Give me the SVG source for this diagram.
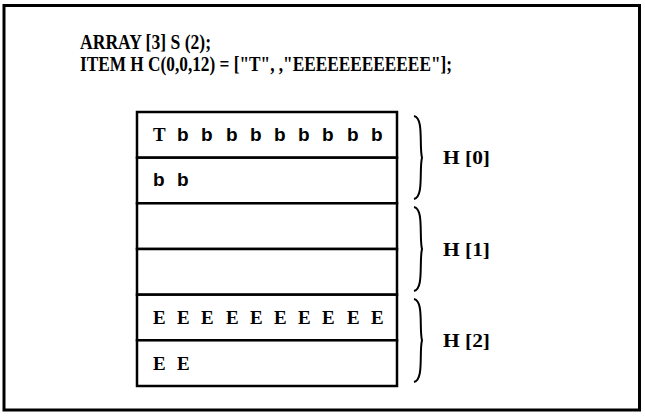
<svg xmlns="http://www.w3.org/2000/svg" width="645" height="420" viewBox="0 0 645 420">
<style>
  .frame{fill:#fff;stroke:#000;stroke-width:3}
  .cell{fill:#fff;stroke:#000;stroke-width:2.5}
  .head{font-family:"Liberation Serif","Times New Roman",serif;font-weight:bold;font-size:20px;fill:#000}
  .cellT{font-family:"Liberation Serif","Times New Roman",serif;font-weight:bold;font-size:19px;fill:#000}
  .cellB{font-family:"Liberation Sans",Arial,sans-serif;font-weight:bold;font-size:19px;fill:#000}
  .lbl{font-family:"Liberation Serif","Times New Roman",serif;font-weight:bold;font-size:19px;fill:#000}
  .brace{fill:none;stroke:#000;stroke-width:2}
</style>
<rect width="645" height="420" fill="#fff"/>
<rect class="frame" x="4" y="5.5" width="635.5" height="404.5"/>
<g id="header">
  <text class="head" x="80" y="48.5" textLength="131" lengthAdjust="spacingAndGlyphs">ARRAY [3] S (2);</text>
  <text class="head" x="80" y="71" textLength="372" lengthAdjust="spacingAndGlyphs">ITEM H C(0,0,12) = ["T", ,"EEEEEEEEEEEE"];</text>
</g>
<g id="H0">
  <rect class="cell" x="137" y="112" width="260" height="45.7"/>
  <rect class="cell" x="137" y="157.7" width="260" height="45.6"/>
  <text class="cellT" x="153" y="141">T</text>
  <text class="cellB" x="177" y="141">b</text>
  <text class="cellB" x="201" y="141">b</text>
  <text class="cellB" x="226" y="141">b</text>
  <text class="cellB" x="250" y="141">b</text>
  <text class="cellB" x="274" y="141">b</text>
  <text class="cellB" x="298" y="141">b</text>
  <text class="cellB" x="322" y="141">b</text>
  <text class="cellB" x="347" y="141">b</text>
  <text class="cellB" x="371" y="141">b</text>
  <text class="cellB" x="153" y="186">b</text>
  <text class="cellB" x="177" y="186">b</text>
  <path class="brace" d="M414,116 C424,118 419,146 422,157.7 C419,169 424,197 414,199"/>
  <text class="lbl" x="443" y="164" textLength="47" lengthAdjust="spacingAndGlyphs">H [0]</text>
</g>
<g id="H1">
  <rect class="cell" x="137" y="203.3" width="260" height="45.7"/>
  <rect class="cell" x="137" y="249" width="260" height="45.7"/>
  <path class="brace" d="M414,207 C424,209 419,237 422,249 C419,261 424,289 414,291"/>
  <text class="lbl" x="443" y="256" textLength="47" lengthAdjust="spacingAndGlyphs">H [1]</text>
</g>
<g id="H2">
  <rect class="cell" x="137" y="294.7" width="260" height="45.6"/>
  <rect class="cell" x="137" y="340.3" width="260" height="45.7"/>
  <text class="cellT" x="153" y="324">E</text>
  <text class="cellT" x="177" y="324">E</text>
  <text class="cellT" x="201" y="324">E</text>
  <text class="cellT" x="226" y="324">E</text>
  <text class="cellT" x="250" y="324">E</text>
  <text class="cellT" x="274" y="324">E</text>
  <text class="cellT" x="298" y="324">E</text>
  <text class="cellT" x="322" y="324">E</text>
  <text class="cellT" x="347" y="324">E</text>
  <text class="cellT" x="371" y="324">E</text>
  <text class="cellT" x="153" y="370">E</text>
  <text class="cellT" x="177" y="370">E</text>
  <path class="brace" d="M414,299 C424,301 419,329 422,340.3 C419,352 424,380 414,382"/>
  <text class="lbl" x="443" y="347" textLength="47" lengthAdjust="spacingAndGlyphs">H [2]</text>
</g>
<g id="connectors"></g>
</svg>
